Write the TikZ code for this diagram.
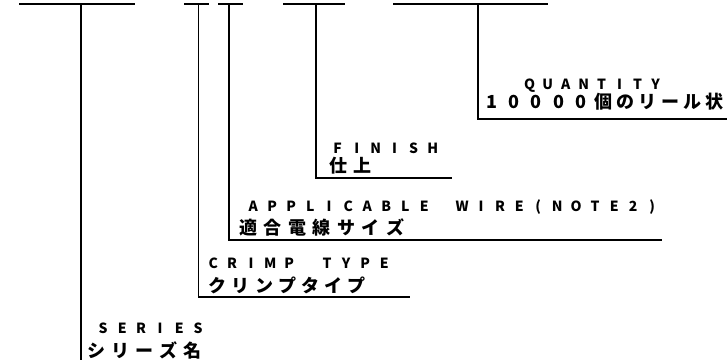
\documentclass[tikz,border=0pt]{standalone}
\usepackage{fontspec}
\setmainfont{Noto Sans CJK JP}
\ExplSyntaxOn
\NewDocumentCommand\pitched{mm}{\tl_map_inline:nn{#2}{\makebox[#1][c]{##1}}}
\ExplSyntaxOff
\tikzset{
  bar/.style={line width=2pt},
  lead/.style={line width=1.8pt},
  lat/.style={anchor=base west, inner sep=0pt, font=\fontsize{14}{14}\selectfont\bfseries},
  jap/.style={anchor=base west, inner sep=0pt, font=\fontsize{18}{18}\selectfont\bfseries},
}
\begin{document}
\begin{tikzpicture}[x=1pt,y=-1pt]
\useasboundingbox (0,0) rectangle (728,360);
% code bars
\coordinate (b1l) at (19,3.5);  \coordinate (b1r) at (135,3.5); \coordinate (b1m) at (81,3.5);
\coordinate (b2l) at (184,3.5); \coordinate (b2r) at (209,3.5); \coordinate (b2m) at (198.5,3.5);
\coordinate (b3l) at (218,3.5); \coordinate (b3r) at (243,3.5); \coordinate (b3m) at (229,3.5);
\coordinate (b4l) at (283,3.5); \coordinate (b4r) at (345,3.5); \coordinate (b4m) at (316,3.5);
\coordinate (b5l) at (393,3.5); \coordinate (b5r) at (548,3.5); \coordinate (b5m) at (478,3.5);
\draw[bar] (b1l) -- (b1r);
\draw[bar] (b2l) -- (b2r);
\draw[bar] (b3l) -- (b3r);
\draw[bar] (b4l) -- (b4r);
\draw[bar] (b5l) -- (b5r);
% leaders
\coordinate (s1) at (81,360);
\coordinate (c2) at (198.5,297); \coordinate (e2) at (410,297);
\coordinate (c3) at (229,240);   \coordinate (e3) at (662,240);
\coordinate (c4) at (316,178);   \coordinate (e4) at (452,178);
\coordinate (c5) at (478,119);   \coordinate (e5) at (727,119);
\draw[lead] (b1m) -- (s1);
\draw[lead] (b2m) -- (c2) -- (e2);
\draw[lead] (b3m) -- (c3) -- (e3);
\draw[lead] (b4m) -- (c4) -- (e4);
\draw[lead] (b5m) -- (c5) -- (e5);
% labels
\node[lat] (tq) at (520.5,89) {\pitched{18pt}{QUANTITY}};
\node[jap] (jq) at (480.5,108) {\pitched{22.3pt}{10000個のリール状}};
\node[lat] (tf) at (328,153) {\pitched{19pt}{FINISH}};
\node[jap] (jf) at (326,172) {\pitched{24pt}{仕上}};
\node[lat] (ta) at (243.5,211) {\pitched{19pt}{APPLICABLE~WIRE(NOTE2)}};
\node[jap] (ja) at (236,234) {\pitched{24.5pt}{適合電線サイズ}};
\node[lat] (tc) at (203.5,268) {\pitched{19pt}{CRIMP~TYPE}};
\node[jap] (jc) at (206,292) {\pitched{23.2pt}{クリンプタイプ}};
\node[lat] (ts) at (93.5,333) {\pitched{19pt}{SERIES}};
\node[jap] (js) at (84,357) {\pitched{24pt}{シリーズ名}};
\end{tikzpicture}
\end{document}
